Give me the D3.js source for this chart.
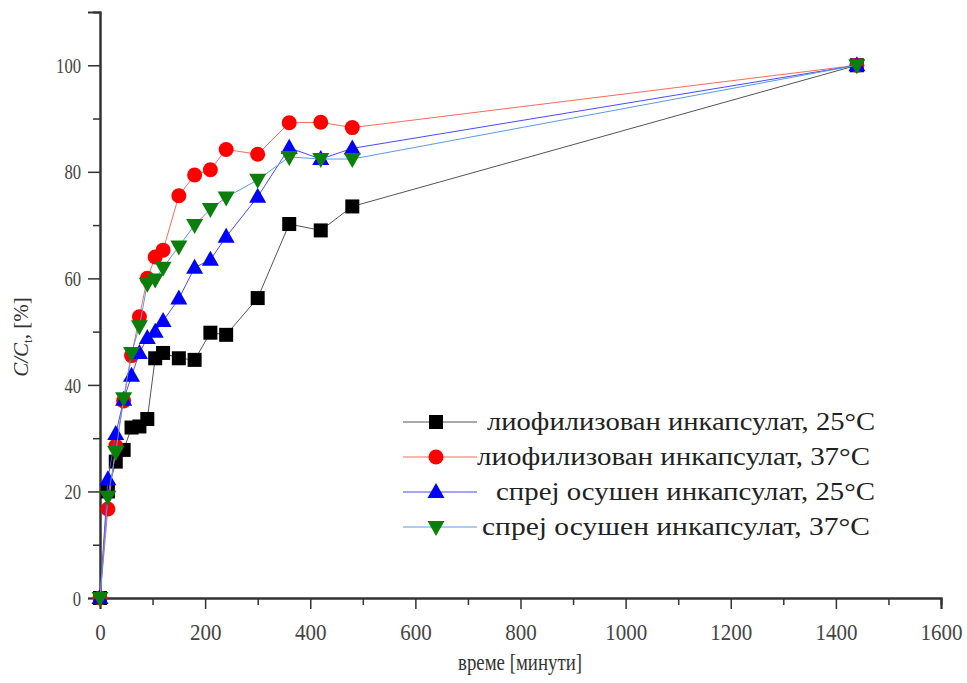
<!DOCTYPE html>
<html>
<head>
<meta charset="utf-8">
<script src="https://cdn.jsdelivr.net/npm/d3@7"></script>
<style>
  html, body { margin: 0; padding: 0; background: #fff; }
  svg { display: block; }
</style>
</head>
<body>
<svg id="chart" width="967" height="683"></svg>
<script>
// Release time points, minutes
const times = [0, 15, 30, 45, 60, 75, 90, 105, 120, 150, 180, 210, 240, 300, 360, 420, 480, 1440];

// Released fraction C/Ct, %
const lyoph25 = [0, 20, 25.6, 27.8, 32, 32.2, 33.6, 45, 46, 45, 44.7, 49.8, 49.4, 56.3, 70.2, 69, 73.5, 100];
const lyoph37 = [0, 16.7, 28.5, 37, 45.5, 52.8, 60, 64, 65.3, 75.5, 79.4, 80.4, 84.2, 83.3, 89.2, 89.3, 88.3, 100];
const spray25 = [0, 22.3, 30.8, 37.2, 41.7, 46, 48.8, 50, 52, 56.2, 62, 63.5, 67.8, 75.3, 84.5, 82.4, 84.4, 100];
const spray37 = [0, 19, 27.4, 37.5, 46, 51, 59, 59.8, 62, 66, 70, 73, 75.2, 78.5, 82.8, 82.4, 82.4, 100];

const seriesNames = [
  "лиофилизован инкапсулат, 25°C",
  "лиофилизован инкапсулат, 37°C",
  "спреј осушен инкапсулат, 25°C",
  "спреј осушен инкапсулат, 37°C"
];

const xTicks = [0, 200, 400, 600, 800, 1000, 1200, 1400, 1600];
const yTicks = [0, 20, 40, 60, 80, 100];

const series = [
  { name: seriesNames[0], values: lyoph25, line: "#555555", fill: "#000000", shape: "square" },
  { name: seriesNames[1], values: lyoph37, line: "#ff6a5a", fill: "#ff0000", shape: "circle" },
  { name: seriesNames[2], values: spray25, line: "#4a4aff", fill: "#0000ff", shape: "up" },
  { name: seriesNames[3], values: spray37, line: "#5a9ae6", fill: "#0a800a", shape: "down" }
];

const svg = d3.select("#chart");
const plot = { left: 100, right: 941, top: 12, bottom: 598 };

const x = d3.scaleLinear().domain([0, 1600]).range([plot.left, plot.right]);
const y = d3.scaleLinear().domain([0, 110]).range([plot.bottom, plot.top]);

const axisColor = "#333";
const serif = "'Liberation Serif', 'Times New Roman', serif";

// X axis: major ticks every 200, minor every 100
const gx = svg.append("g").attr("transform", `translate(0,${plot.bottom})`);
gx.call(d3.axisBottom(x).tickValues(d3.range(100, 1600, 200)).tickSize(7).tickFormat(""));
gx.append("g").call(d3.axisBottom(x).tickValues(xTicks).tickSize(11).tickPadding(6).tickFormat(d3.format("d")));
gx.selectAll("path.domain").attr("stroke", axisColor).attr("stroke-width", 2);
gx.selectAll(".tick line").attr("stroke", axisColor).attr("stroke-width", 1.5);
gx.selectAll("g.tick text").filter(function () { return this.textContent === ""; }).remove();
gx.selectAll(".tick text")
  .attr("fill", "#444")
  .style("font-family", serif)
  .style("font-size", "24px")
  .attr("dy", null).attr("y", 42)
  .attr("lengthAdjust", "spacingAndGlyphs")
  .attr("textLength", d => String(d).length * 10.5);

// Y axis: major ticks every 20, minor every 10
const gy = svg.append("g").attr("transform", `translate(${plot.left},0)`);
gy.call(d3.axisLeft(y).tickValues(d3.range(10, 110, 20)).tickSize(7).tickFormat(""));
gy.append("g").call(d3.axisLeft(y).tickValues(yTicks).tickSize(12).tickPadding(6).tickFormat(d3.format("d")));
gy.selectAll("path.domain").attr("stroke", axisColor).attr("stroke-width", 2);
gy.selectAll(".tick line").attr("stroke", axisColor).attr("stroke-width", 1.5);
gy.selectAll("g.tick text").filter(function () { return this.textContent === ""; }).remove();
gy.selectAll(".tick text")
  .attr("fill", "#444")
  .style("font-family", serif)
  .style("font-size", "21px")
  .attr("dy", "0.34em").attr("x", -19)
  .attr("lengthAdjust", "spacingAndGlyphs")
  .attr("textLength", d => String(d).length * 8.3);

// Axis titles
svg.append("text")
  .attr("x", 520).attr("y", 670)
  .attr("text-anchor", "middle")
  .attr("fill", "#333")
  .style("font-family", serif)
  .style("font-size", "23px")
  .attr("lengthAdjust", "spacingAndGlyphs")
  .attr("textLength", 124)
  .text("време [минути]");

const yTitle = svg.append("text")
  .attr("transform", "translate(28,337) rotate(-90)")
  .attr("text-anchor", "middle")
  .attr("fill", "#333")
  .style("font-family", serif)
  .style("font-size", "21px");
yTitle.append("tspan").style("font-style", "italic").text("C/C");
yTitle.append("tspan").attr("dy", 4).style("font-size", "13px").text("t");
yTitle.append("tspan").attr("dy", -4).text(", [%]");

// Marker drawing
function marker(g, shape, fill, cx, cy) {
  if (shape === "square") {
    g.append("rect").attr("x", cx - 7).attr("y", cy - 7).attr("width", 14).attr("height", 14).attr("fill", fill);
  } else if (shape === "circle") {
    g.append("circle").attr("cx", cx).attr("cy", cy).attr("r", 7.5).attr("fill", fill);
  } else if (shape === "up") {
    g.append("path").attr("d", `M${cx},${cy - 9}L${cx + 8.5},${cy + 6}L${cx - 8.5},${cy + 6}Z`).attr("fill", fill);
  } else {
    g.append("path").attr("d", `M${cx},${cy + 9}L${cx + 8.5},${cy - 6}L${cx - 8.5},${cy - 6}Z`).attr("fill", fill);
  }
}

const line = d3.line().x(d => x(d[0])).y(d => y(d[1]));

series.forEach(s => {
  const pts = times.map((t, i) => [t, s.values[i]]);
  const g = svg.append("g");
  g.append("path").attr("d", line(pts)).attr("fill", "none").attr("stroke", s.line).attr("stroke-width", 1);
  pts.forEach(p => marker(g, s.shape, s.fill, x(p[0]), y(p[1])));
});

// Legend
const legend = svg.append("g");
const legendRows = [422, 457, 492, 527];
const textX = [487, 477, 496, 482];
const textW = [388, 393, 379, 388];
series.forEach((s, i) => {
  const ly = legendRows[i];
  legend.append("line").attr("x1", 403).attr("x2", 477).attr("y1", ly).attr("y2", ly)
    .attr("stroke", s.line).attr("stroke-width", 1);
  marker(legend, s.shape, s.fill, 436, ly);
  legend.append("text").attr("x", textX[i]).attr("y", ly + 8)
    .attr("fill", "#222")
    .style("font-family", serif)
    .style("font-size", "25px")
    .attr("lengthAdjust", "spacingAndGlyphs")
    .attr("textLength", textW[i])
    .text(s.name);
});
</script>
</body>
</html>
